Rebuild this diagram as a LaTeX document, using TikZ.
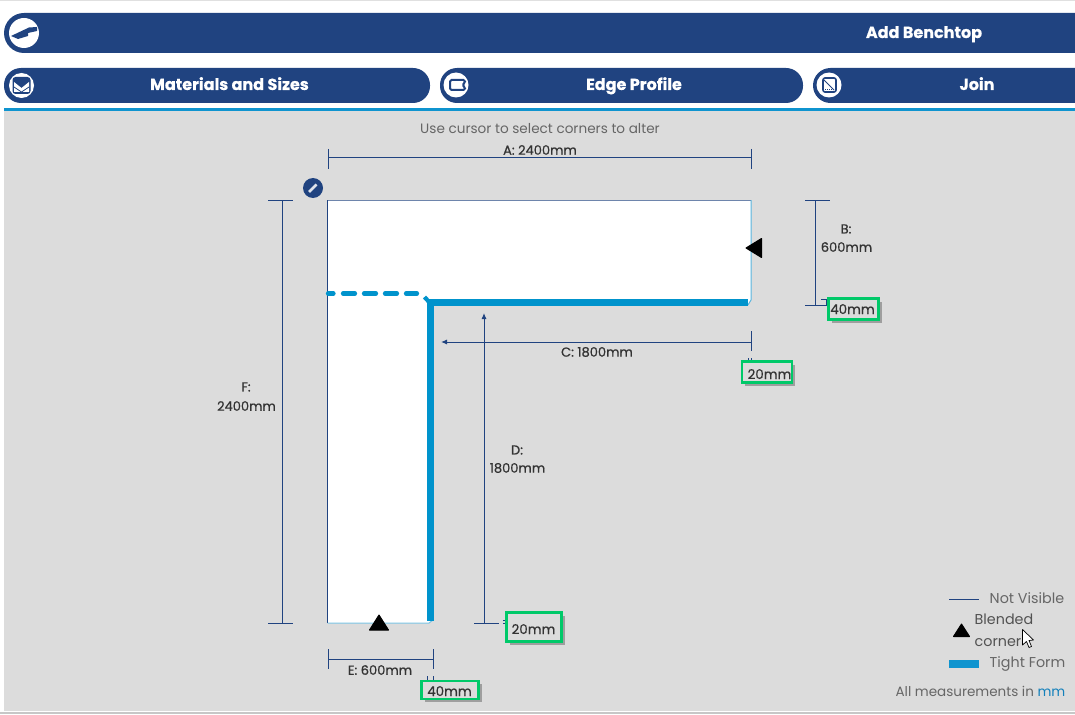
\documentclass[tikz,border=0pt]{standalone}
\usepackage{fontspec}
\setmainfont{Poppins}[BoldFeatures={FakeBold=0.5}]
\newfontfamily\medf{Poppins}[FakeBold=0.7]
\usetikzlibrary{arrows.meta,shadows}
\definecolor{navy}{HTML}{204380}
\definecolor{sky}{HTML}{0F94CF}
\definecolor{edgeblue}{HTML}{0093CC}
\definecolor{panel}{HTML}{DCDCDC}
\definecolor{greenbox}{HTML}{00C969}
\definecolor{txt}{HTML}{333333}
\definecolor{soft}{HTML}{666666}
\tikzset{
  bar/.style={fill=navy,draw=none},
  headtext/.style={text=white,font=\fontsize{16}{16}\selectfont\bfseries,inner sep=0pt,anchor=base},
  dimline/.style={draw=navy,line width=1pt},
  dimarrow/.style={dimline,-{Latex[length=6pt,width=5pt]}},
  dimtext/.style={text=txt,font=\medf\fontsize{13}{14}\selectfont,inner sep=0pt,align=center},
  softtext/.style={text=soft,font=\fontsize{14.3}{14}\selectfont,inner sep=0pt,anchor=base west},
  greentag/.style={draw=greenbox,line width=2.3pt,fill=panel,inner sep=0pt,
    drop shadow={shadow xshift=3pt,shadow yshift=-3pt,fill=black,opacity=0.28}},
  tagtext/.style={text=txt,font=\medf\fontsize{13.4}{14}\selectfont,inner sep=0pt,anchor=base},
  tightform/.style={draw=edgeblue,line width=6.5pt},
  tri/.style={fill=black,draw=black,line width=1pt,line join=round},
  iconring/.style={circle,fill=white,draw=none,inner sep=0pt},
}
\begin{document}
\begin{tikzpicture}[x=1pt,y=-1pt]
\useasboundingbox (0,0) rectangle (1075,714);
\fill[white] (0,0) rectangle (1075,714);
\fill[black!12] (0,0) rectangle (1075,1.5);
% panel
\fill[panel] (4,110) rectangle (1075,711);
\fill[black!22] (0,712) rectangle (1075,714);
\fill[sky] (4,108) rectangle (1075,111);
% header bars
\fill[bar] (1075,13) -- (24,13) arc[start angle=270,end angle=90,radius=20] -- (1075,53) -- cycle;
\node[headtext] (title) at (924,38) {Add Benchtop};
\fill[bar,rounded corners=17pt] (4,68) rectangle (430,103);
\fill[bar,rounded corners=17pt] (440,68) rectangle (803,103);
\fill[bar] (1075,68) -- (830.5,68) arc[start angle=270,end angle=90,radius=17.5] -- (1075,103) -- cycle;
\node[headtext] (mat) at (229.5,90) {Materials and Sizes};
\node[headtext] (edge) at (634,90) {Edge Profile};
\node[headtext] (join) at (977,90) {Join};
% icons
\node[iconring,minimum size=30pt] (ic0) at (24,33) {};
\fill[navy] (11,36) -- (29,27.5) -- (37,27) -- (37,31) -- (28,33) -- (28,36) -- (18,39) -- cycle;
\node[iconring,minimum size=25pt] (ic1) at (21.5,85.5) {};
\fill[navy,rounded corners=3pt] (12.5,77) rectangle (30.5,94);
\fill[white] (14,82) -- (21.5,88) -- (29,82) -- (29,92) -- (14,92) -- cycle;
\draw[navy,line width=0.7pt] (14,87) -- (21.5,92);
\draw[navy,line width=0.7pt] (29,87) -- (21.5,92);
\node[iconring,minimum size=25pt] (ic2) at (456,85) {};
\draw[navy,line width=2pt,rounded corners=1.5pt] (450,80) -- (465,80) -- (465,83) -- (462,85) -- (465,87) -- (465,90) -- (450,90) -- cycle;
\node[iconring,minimum size=25pt] (ic3) at (829,85) {};
\draw[navy,line width=1.6pt,rounded corners=2pt] (823,78) rectangle (836,92);
\draw[navy,line width=0.9pt] (823,79) -- (834,90);
\draw[navy,line width=1pt,densely dotted] (823,89.5) -- (836,89.5);
% benchtop
\fill[white] (327.5,200) -- (751,200) -- (751,300) -- (748,305) -- (433,305) -- (433,620) -- (429,623) -- (327.5,623) -- cycle;
\draw[navy,line width=1pt] (327.5,623) -- (327.5,200);
\draw[navy!65,line width=1pt] (327.5,200) -- (751,200);
\draw[sky!70,line width=1pt] (751,200) -- (751,300) -- (748,305);
\draw[sky!55,line width=1pt] (327.5,623) -- (429,623) -- (433,620);
% tight form edges
\coordinate (tfa) at (747.5,302.5);
\coordinate (tfb) at (430.5,302.5);
\coordinate (tfc) at (430.5,620.5);
\draw[tightform,line cap=butt] (tfa) -- (tfb) -- (tfc);
\draw[edgeblue,line width=4.2pt,line cap=round] (328,293.5) -- (333.5,293.5) (343,293.5) -- (355,293.5) (364,293.5) -- (376,293.5) (385,293.5) -- (397,293.5) (406,293.5) -- (417,293.5);
\draw[edgeblue,line width=4.2pt] (424.5,297) -- (430,303);
% blended corners
\draw[tri] (379,615) -- (388.5,630) -- (369.5,630) -- cycle;
\draw[tri] (746,248) -- (761.5,238.5) -- (761.5,257.5) -- cycle;
% edit icon
\node[circle,fill=navy,minimum size=20pt,inner sep=0pt] (edit) at (313,188) {};
\draw[white!85!navy,line width=2.6pt] (309,192) -- (316.5,184.5);
% hint
\node[softtext,anchor=center,font=\fontsize{13.6}{14}\selectfont] (hint) at (540,128.5) {Use cursor to select corners to alter};
% dimension A
\coordinate (a1) at (328,158); \coordinate (a2) at (751,158);
\draw[dimline] (a1) -- (a2) (328,149) -- (328,169) (751,149) -- (751,169);
\node[dimtext] (la) at (540,150) {A: 2400mm};
% dimension F
\coordinate (f1) at (282,200); \coordinate (f2) at (282,623);
\draw[dimline] (f1) -- (f2) (268,200) -- (293,200) (268,623) -- (293,623);
\node[dimtext] (lf1) at (246,387) {F:};
\node[dimtext] (lf2) at (246.5,406) {2400mm};
% dimension B
\coordinate (b1) at (815,200); \coordinate (b2) at (815,305);
\draw[dimline] (b1) -- (b2) (805,200) -- (830,200) (805,305) -- (829,305);
\node[dimtext] (lb1) at (846,229) {B:};
\node[dimtext] (lb2) at (846.5,247) {600mm};
\draw[dimline,line width=0.7pt] (821,299.5) -- (828,299.5) (826,299.5) -- (826,305);
% dimension C
\coordinate (c1) at (751,342); \coordinate (c2) at (441,342);
\draw[dimarrow] (c1) -- (c2);
\draw[dimline] (751,331) -- (751,351);
\node[dimtext] (lc) at (597,352) {C: 1800mm};
% dimension D
\coordinate (d1) at (484,623); \coordinate (d2) at (484,313);
\draw[dimarrow] (d1) -- (d2);
\draw[dimline] (474,623) -- (499,623);
\node[dimtext] (ld1) at (517,450) {D:};
\node[dimtext] (ld2) at (517.5,468) {1800mm};
% dimension E
\coordinate (e1) at (328,659); \coordinate (e2) at (433,659);
\draw[dimline] (e1) -- (e2) (328,649) -- (328,669) (433,649) -- (433,669);
\node[dimtext] (le) at (380,670) {E: 600mm};
% small offset ticks
\draw[dimline,line width=0.7pt] (748.5,358) -- (748.5,366) (751,358) -- (751,366) (748.5,362) -- (751,362);
\draw[dimline,line width=0.7pt] (503,620.5) -- (511,620.5) (503,623) -- (511,623) (507,620.5) -- (507,623);
\draw[dimline,line width=0.7pt] (427,676) -- (427,684) (433,676) -- (433,684) (427,680) -- (433,680);
% green tags
\node[greentag,minimum width=50pt,minimum height=21pt] (t1) at (853.5,309) {};
\node[tagtext] at (852.5,314) {40mm};
\node[greentag,minimum width=50pt,minimum height=21pt] (t2) at (767,372) {};
\node[tagtext] at (769.5,379) {20mm};
\node[greentag,minimum width=55pt,minimum height=29pt] (t3) at (534,627) {};
\node[tagtext] at (533.5,634) {20mm};
\node[greentag,minimum width=57pt,minimum height=18pt] (t4) at (450,690) {};
\node[tagtext] at (449.5,696) {40mm};
% legend
\coordinate (nv1) at (949,599); \coordinate (nv2) at (979,599);
\draw[dimline] (nv1) -- (nv2);
\node[softtext] (nv) at (989.5,603) {Not Visible};
\draw[tri] (961.5,624) -- (969.5,636.5) -- (953.5,636.5) -- cycle;
\node[softtext,text=txt!85] (bl1) at (974.5,624) {Blended};
\node[softtext,text=txt!85] (bl2) at (974.5,646) {corner};
\fill[sky] (949,660) rectangle (979,668);
\node[softtext] (tf) at (989.5,667) {Tight Form};
\node[softtext,anchor=base east,font=\fontsize{13.5}{14}\selectfont] (all) at (1065.5,696) {All measurements in \textcolor{sky!75!navy}{mm}};
% cursor
\draw[black,fill=white,line width=0.7pt,line join=round] (1022.5,629.5) -- (1022.5,645) -- (1026.5,641.5) -- (1029,647.5) -- (1031.5,646.5) -- (1029,640.5) -- (1033.5,640) -- cycle;
\end{tikzpicture}
\end{document}
